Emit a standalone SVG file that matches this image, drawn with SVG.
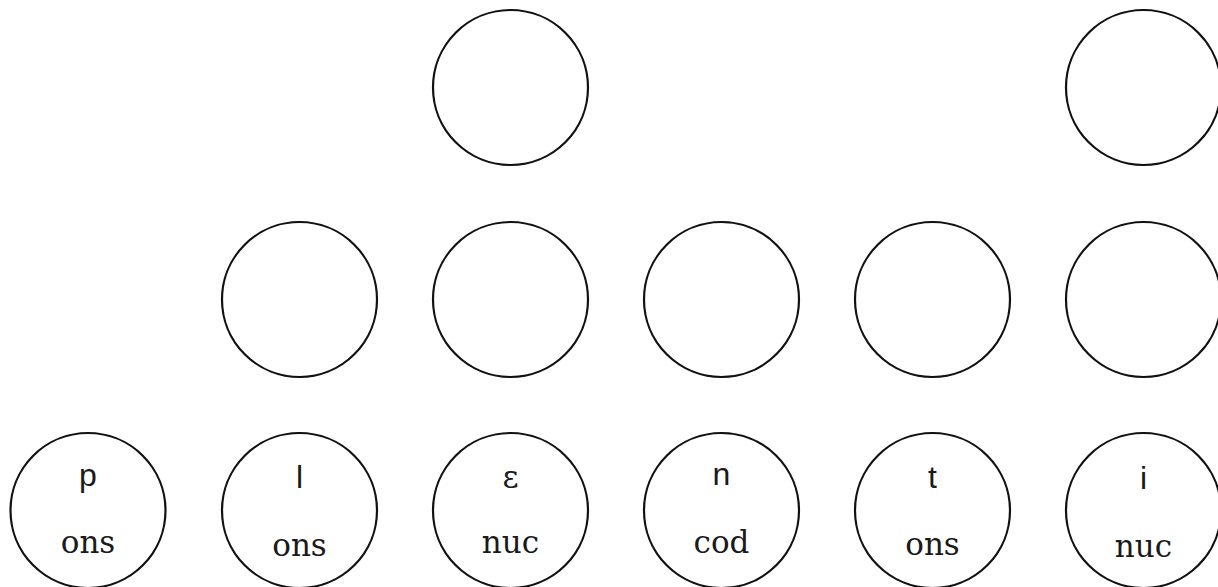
<svg xmlns="http://www.w3.org/2000/svg" width="1218" height="587" viewBox="0 0 1218 587">
<style>
.n{fill:#fff;stroke:#111;stroke-width:2.2}
.ph{font-family:"Liberation Sans",Arial,sans-serif;font-size:32px;fill:#1a1a1a;text-anchor:middle}
.ep{font-family:"DejaVu Serif","Liberation Serif",serif;font-size:31px;fill:#1a1a1a;text-anchor:middle}
.lb{font-family:"DejaVu Serif","Liberation Serif",serif;font-size:31px;fill:#1a1a1a;text-anchor:middle}
</style>
<rect width="1218" height="587" fill="#fff"/>
<g id="connectors"></g>
<g id="top1"><circle class="n" cx="510.5" cy="87.5" r="77.5"/></g>
<g id="top2"><circle class="n" cx="1143.5" cy="87.5" r="77.5"/></g>
<g id="mid1"><circle class="n" cx="299.5" cy="299.5" r="77.5"/></g>
<g id="mid2"><circle class="n" cx="510.5" cy="299.5" r="77.5"/></g>
<g id="mid3"><circle class="n" cx="721.5" cy="299.5" r="77.5"/></g>
<g id="mid4"><circle class="n" cx="932.5" cy="299.5" r="77.5"/></g>
<g id="mid5"><circle class="n" cx="1143.5" cy="299.5" r="77.5"/></g>
<g id="seg-p"><circle class="n" cx="88" cy="510.5" r="77.5"/><text class="ph" x="88" y="486">p</text><text class="lb" x="88" y="553">ons</text></g>
<g id="seg-l"><circle class="n" cx="299.5" cy="510.5" r="77.5"/><text class="ph" x="299.5" y="488">l</text><text class="lb" x="299.5" y="556">ons</text></g>
<g id="seg-e"><circle class="n" cx="510.5" cy="510.5" r="77.5"/><text class="ep" x="510.5" y="488">ɛ</text><text class="lb" x="510.5" y="553">nuc</text></g>
<g id="seg-n"><circle class="n" cx="721.5" cy="510.5" r="77.5"/><text class="ph" x="721.5" y="485">n</text><text class="lb" x="721.5" y="553">cod</text></g>
<g id="seg-t"><circle class="n" cx="932.5" cy="510.5" r="77.5"/><text class="ph" x="932.5" y="488">t</text><text class="lb" x="932.5" y="555">ons</text></g>
<g id="seg-i"><circle class="n" cx="1143.5" cy="510.5" r="77.5"/><text class="ph" x="1143.5" y="489">i</text><text class="lb" x="1143.5" y="557">nuc</text></g>
</svg>
